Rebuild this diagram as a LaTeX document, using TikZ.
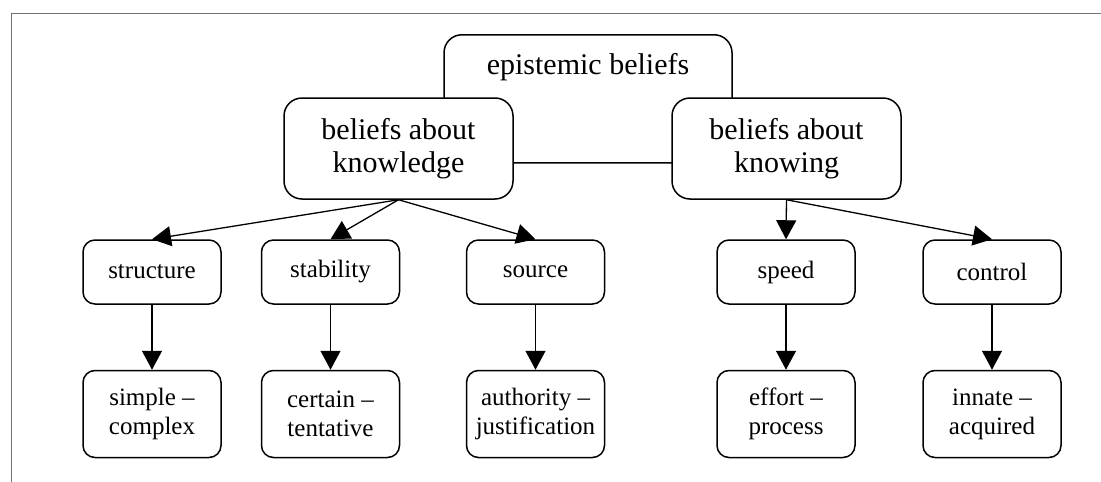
\documentclass[tikz,border=0pt]{standalone}
\usepackage{fontspec}
\setmainfont{Liberation Serif}
\usepackage{tikz}
\usetikzlibrary{positioning,arrows.meta}

\begin{document}
\begin{tikzpicture}[%
	x=1pt, y=-1pt,
	>={Triangle[length=19pt,width=20pt]}, line width=1.3pt,
	transform shape, align=center,
	bigbox/.style={draw, rounded corners=18pt, fill=white, line width=1.5pt,
		font=\fontsize{30}{33}\selectfont, inner sep=4pt},
	smallbox/.style={draw, rounded corners=12pt, fill=white, line width=1.5pt,
		font=\fontsize{25}{29}\selectfont, minimum width=138pt, inner sep=4pt},
	aspect/.style={smallbox, minimum height=64pt},
	pole/.style={smallbox, minimum height=87pt},
	node distance=65pt
	]
	\useasboundingbox (0,0) rectangle (1101,482);
	\draw[black!55, line width=0.8pt] (11,482) -- (11,13) -- (1101,13);
	
	\node[bigbox, minimum width=288pt, text height=36pt, text depth=84pt, anchor=north] (epi) at (588,34) {epistemic beliefs};
	
	\node[bigbox, minimum width=229pt, minimum height=101pt] (know) at (398.5,148.5) {beliefs about\\knowledge};
	\node[bigbox, minimum width=229pt, minimum height=101pt] (knowing) at (786.5,148.5) {beliefs about\\knowing};
	
	\node[aspect] (structure) at (152,272) {structure};
	\node[aspect] (stability) at (330.5,272) {stability};
	\node[aspect] (source) at (535.5,272) {source};
	\node[aspect] (speed) at (786,272) {speed};
	\node[aspect] (control) at (992,272) {control};
	
	\node[pole] (simple) [below=of structure] {simple --\\complex};
	\node[pole] (certain) [below=of stability] {certain --\\tentative};
	\node[pole] (authority) [below=of source] {authority --\\justification};
	\node[pole] (effort) [below=of speed] {effort --\\process};
	\node[pole] (innate) [below=of control] {innate --\\acquired};
	
	\path[->] (know.south) edge (structure.north)
	(know.south) edge (stability.north)
	(know.south) edge (source.north)
	(knowing.south) edge (speed.north)
	(knowing.south) edge (control.north)
	(structure) edge (simple)
	(stability) edge (certain)
	(source) edge (authority)
	(speed) edge (effort)
	(control) edge (innate)
	;
\end{tikzpicture}
\end{document}
